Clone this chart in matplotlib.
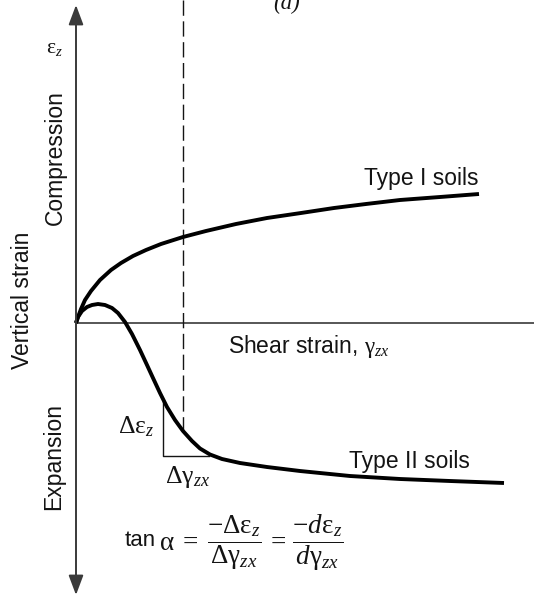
import matplotlib
matplotlib.use("Agg")
import matplotlib.pyplot as plt

plt.rcParams["font.family"] = ["Liberation Sans", "DejaVu Sans"]
plt.rcParams["mathtext.fontset"] = "custom"
plt.rcParams["mathtext.rm"] = "Liberation Serif"
plt.rcParams["mathtext.it"] = "Liberation Serif:italic"
plt.rcParams["mathtext.sf"] = "Liberation Sans"

# curves (shear strain, vertical strain)
type1_x = [0, 0.02, 0.05, 0.09, 0.15, 0.24, 0.35, 0.45, 0.57, 0.70, 0.85, 1.07, 1.30, 1.60,
           1.91, 2.25, 2.58, 2.90, 3.24, 3.64, 4.03]
type1_y = [0, 0.06, 0.14, 0.23, 0.32, 0.43, 0.53, 0.60, 0.67, 0.73, 0.79, 0.86, 0.92, 0.99,
           1.05, 1.10, 1.15, 1.19, 1.23, 1.26, 1.29]

type2_x = [0, 0.02, 0.06, 0.11, 0.16, 0.22, 0.29, 0.36, 0.42, 0.49, 0.56, 0.64, 0.71, 0.77,
           0.84, 0.91, 0.99, 1.07, 1.16, 1.24, 1.34, 1.46, 1.64, 1.91, 2.24, 2.74, 3.24, 3.74, 4.28]
type2_y = [0, 0.06, 0.12, 0.16, 0.18, 0.19, 0.18, 0.15, 0.10, 0.01, -0.11, -0.27, -0.42, -0.55,
           -0.70, -0.84, -0.97, -1.08, -1.18, -1.255, -1.315, -1.36, -1.40, -1.44, -1.48, -1.53,
           -1.56, -1.58, -1.60]

dashed_x = 1.07
tri_x = [0.87, 0.87, 1.33]
tri_y = [-0.79, -1.33, -1.33]

fig = plt.figure(figsize=(5.34, 5.98), dpi=100)
ax = fig.add_axes([0, 0, 1, 1])
ax.set_xlim(-0.76, 4.58)
ax.set_ylim(-2.75, 3.23)
ax.axis("off")

axis_col = "#3a3a3a"
ink = "#141414"

# axes
ax.plot([0, 4.58], [0, 0], color=axis_col, lw=1.2, solid_capstyle="butt")
ax.annotate("", xy=(0, 3.18), xytext=(0, -2.72),
            arrowprops=dict(arrowstyle="<|-|>,head_length=1.2,head_width=0.45",
                            color=axis_col, lw=1.4, shrinkA=0, shrinkB=0))

# dashed guide and slope triangle
ax.plot([dashed_x, dashed_x], [3.23, -1.08], color=ink, lw=1.0, dashes=(11, 4))
ax.plot(tri_x, tri_y, color=ink, lw=1.0)

# soil curves
ax.plot(type1_x, type1_y, color="black", lw=2.8, solid_capstyle="butt", solid_joinstyle="round")
ax.plot(type2_x, type2_y, color="black", lw=2.8, solid_capstyle="butt", solid_joinstyle="round")

fs = 16.5
mfs = 18.5
ax.text(-0.22, 2.76, r"$\mathrm{\varepsilon}_z$", fontsize=15.5, ha="center", va="center", color=ink)
ax.text(-0.21, 1.65, "Compression", rotation=90, fontsize=fs, ha="center", va="center", color=ink)
ax.text(-0.54, 0.23, "Vertical strain", rotation=90, fontsize=fs, ha="center", va="center", color=ink)
ax.text(-0.22, -1.34, "Expansion", rotation=90, fontsize=fs, ha="center", va="center", color=ink)
ax.text(2.11, 3.20, "(a)", fontsize=fs, family="Liberation Serif", style="italic",
        ha="center", va="center", color=ink)

ax.text(2.88, 1.38, "Type I soils", fontsize=fs, ha="left", va="baseline", color=ink)
ax.text(2.73, -1.45, "Type II soils", fontsize=fs, ha="left", va="baseline", color=ink)
ax.text(1.52, -0.30, r"Shear strain, $\mathrm{\gamma}_{zx}$", fontsize=fs, ha="left",
        va="baseline", color=ink)

ax.text(0.42, -1.10, r"$\Delta\mathrm{\varepsilon}_z$", fontsize=mfs, ha="left", va="baseline", color=ink)
ax.text(0.89, -1.60, r"$\Delta\mathrm{\gamma}_{zx}$", fontsize=mfs, ha="left", va="baseline", color=ink)

ax.text(0.49, -2.225, "tan", fontsize=16, ha="left", va="baseline", color=ink)
ax.text(0.83, -2.20,
        r"$\mathrm{\alpha}\;=\;\dfrac{-\Delta\mathrm{\varepsilon}_z}{\Delta\mathrm{\gamma}_{zx}}"
        r"\,=\,\dfrac{-d\mathrm{\varepsilon}_z}{d\mathrm{\gamma}_{zx}}$",
        fontsize=19.5, ha="left", va="center", color=ink)

fig.savefig("out.png", dpi=100)
